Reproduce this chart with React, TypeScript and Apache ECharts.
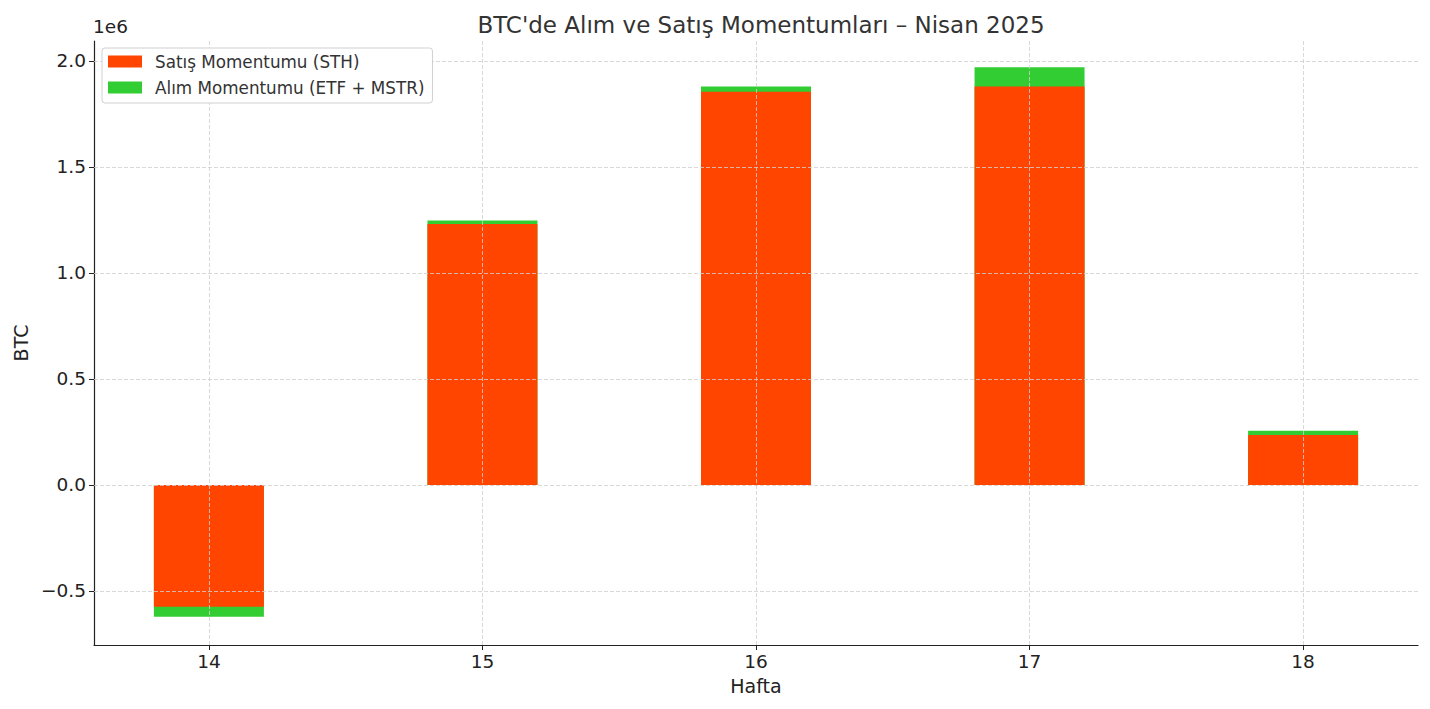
import React, { useEffect, useRef } from "react";
import * as echarts from "echarts";

const weeks = [14, 15, 16, 17, 18];
const sellMomentum = [-575000, 1231000, 1855000, 1879000, 236000];
const buyMomentum = [-47000, 16000, 24000, 91000, 20000];
const yTicks = [-500000, 0, 500000, 1000000, 1500000, 2000000];
const xMin = 13.58;
const xMax = 18.42;
const yMin = -755000;
const yMax = 2094000;

const FONT = "DejaVu Sans";
const SELL_NAME = "Satış Momentumu (STH)";
const BUY_NAME = "Alım Momentumu (ETF + MSTR)";

export default function App() {
  const ref = useRef<HTMLDivElement>(null);
  useEffect(() => {
    if (!ref.current) return;
    const chart = echarts.init(ref.current, undefined, { renderer: "svg" });
    const gridLineStyle = { color: "#cfcfcf", type: [4, 2] as any, width: 0.8 };
    const option: any = {
      animation: false,
      backgroundColor: "#ffffff",
      textStyle: { fontFamily: FONT },
      title: {
        text: "BTC'de Alım ve Satış Momentumları – Nisan 2025",
        left: 756,
        textAlign: "center",
        top: 8,
        textStyle: { fontFamily: FONT, fontSize: 23, fontWeight: "normal", color: "#333333" },
      },
      grid: { left: 94, right: 12, top: 41, bottom: 64, containLabel: false },
      legend: {
        left: 102,
        top: 48,
        z: 10,
        orient: "vertical",
        icon: "rect",
        itemWidth: 34,
        itemHeight: 12,
        itemGap: 9,
        padding: [5, 8, 7, 6],
        backgroundColor: "#ffffff",
        borderColor: "#d0d0d0",
        borderWidth: 1,
        borderRadius: 3,
        textStyle: { fontFamily: FONT, fontSize: 16.8, color: "#333333", padding: [0, 0, 0, 8] },
        data: [SELL_NAME, BUY_NAME],
      },
      graphic: [
        {
          type: "text",
          left: 93,
          top: 17,
          style: { text: "1e6", fontFamily: FONT, fontSize: 18.5, fill: "#222222" },
        },
      ],
      xAxis: {
        type: "value",
        min: xMin,
        max: xMax,
        name: "Hafta",
        nameLocation: "middle",
        nameGap: 31,
        nameTextStyle: { fontFamily: FONT, fontSize: 19, color: "#222222" },
        axisLine: { onZero: false, lineStyle: { color: "#222222", width: 1.2 } },
        axisTick: { show: true, length: 5, customValues: weeks, lineStyle: { color: "#222222" } },
        axisLabel: {
          customValues: weeks,
          fontFamily: FONT,
          fontSize: 18.5,
          color: "#222222",
          margin: 7,
          formatter: (v: number) => String(v),
        },
        splitLine: { show: false },
      },
      yAxis: {
        type: "value",
        min: yMin,
        max: yMax,
        name: "BTC",
        nameLocation: "middle",
        nameRotate: 90,
        nameGap: 62,
        nameTextStyle: { fontFamily: FONT, fontSize: 19, color: "#222222" },
        axisLine: { show: true, onZero: false, lineStyle: { color: "#222222", width: 1.2 } },
        axisTick: { show: true, length: 5, customValues: yTicks, lineStyle: { color: "#222222" } },
        axisLabel: {
          customValues: yTicks,
          fontFamily: FONT,
          fontSize: 18.5,
          color: "#222222",
          margin: 8,
          formatter: (v: number) => (v / 1e6).toFixed(1).replace("-", "\u2212"),
        },
        splitLine: { show: false },
      },
      series: [
        {
          name: BUY_NAME,
          type: "bar",
          barWidth: 110,
          barGap: "-100%",
          z: 2,
          itemStyle: { color: "#32CD32" },
          data: weeks.map((w, i) => [w, sellMomentum[i] + buyMomentum[i]]),
        },
        {
          name: SELL_NAME,
          type: "bar",
          barWidth: 110,
          barGap: "-100%",
          z: 3,
          itemStyle: { color: "#FF4500" },
          data: weeks.map((w, i) => [w, sellMomentum[i]]),
        },
        {
          name: "grid",
          type: "line",
          data: [],
          z: 5,
          silent: true,
          markLine: {
            silent: true,
            symbol: ["none", "none"],
            label: { show: false },
            lineStyle: gridLineStyle,
            data: [
              ...weeks.map((w) => ({ xAxis: w })),
              ...yTicks.map((t) => ({ yAxis: t })),
            ],
          },
        },
      ],
    };
    chart.setOption(option);
    return () => chart.dispose();
  }, []);
  return (
    <div
      ref={ref}
      style={{ position: "fixed", left: 0, top: 0, width: 1430, height: 709 }}
    />
  );
}
